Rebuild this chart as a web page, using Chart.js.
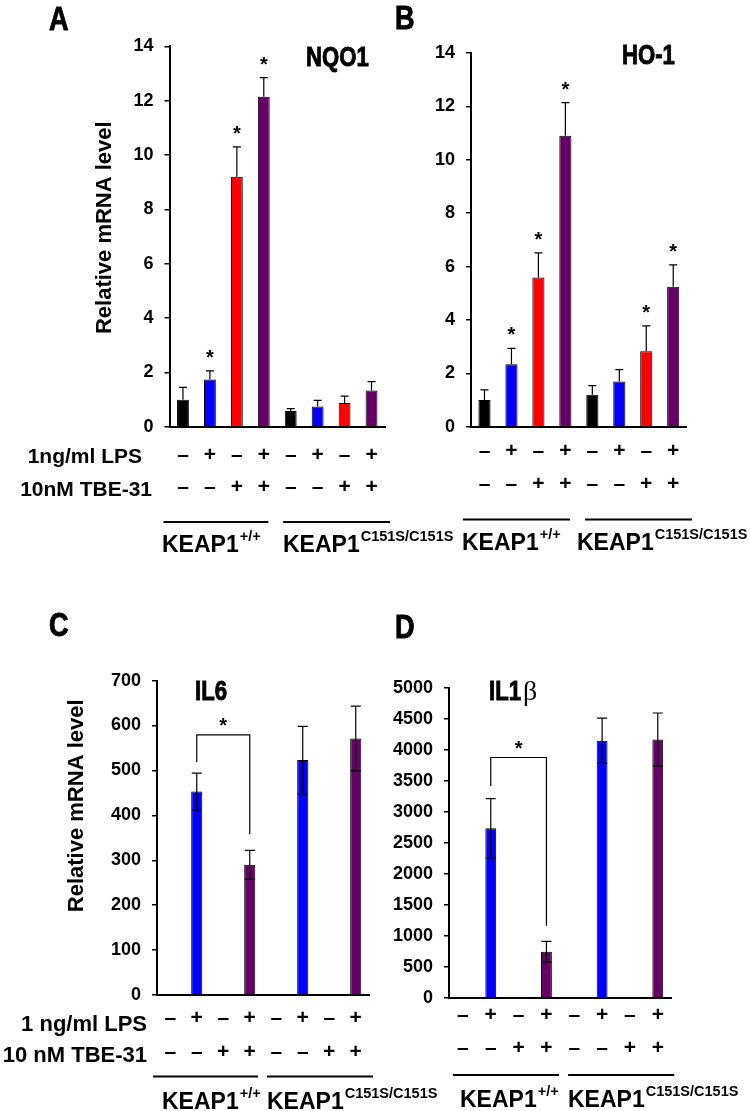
<!DOCTYPE html>
<html>
<head>
<meta charset="utf-8">
<title>KEAP1 mRNA levels</title>
<script src="https://cdn.jsdelivr.net/npm/chart.js@4.4.0/dist/chart.umd.min.js"></script>
<style>
  body { margin: 0; background: #fff; }
  #wrap { position: relative; width: 750px; height: 1111px; }
  #wrap canvas { position: absolute; left: 0; top: 0; }
</style>
</head>
<body>
<div id="wrap">
  <canvas id="chartA" width="750" height="1111"></canvas>
  <canvas id="chartB" width="750" height="1111"></canvas>
  <canvas id="chartC" width="750" height="1111"></canvas>
  <canvas id="chartD" width="750" height="1111"></canvas>
</div>
<script>
// ---- data ----
const lpsRow = ["–", "+", "–", "+", "–", "+", "–", "+"];
const tbeRow = ["–", "–", "+", "+", "–", "–", "+", "+"];
const genotypeSup = ["+/+", "C151S/C151S"];
const barColors = ["#000000", "#0000ff", "#ff0000", "#660066", "#000000", "#0000ff", "#ff0000", "#660066"];

const nqo1Ticks = [0, 2, 4, 6, 8, 10, 12, 14];
const nqo1Values = [1.0, 1.74, 9.2, 12.15, 0.58, 0.75, 0.88, 1.34];
const nqo1Errors = [0.45, 0.32, 1.1, 0.7, 0.09, 0.22, 0.25, 0.32];
const nqo1Sig = [0, 1, 1, 1, 0, 0, 0, 0];

const ho1Ticks = [0, 2, 4, 6, 8, 10, 12, 14];
const ho1Values = [1.0, 2.34, 5.59, 10.9, 1.2, 1.7, 2.83, 5.24];
const ho1Errors = [0.38, 0.6, 0.92, 1.24, 0.34, 0.44, 0.95, 0.82];
const ho1Sig = [0, 1, 1, 1, 0, 0, 1, 1];

const il6Ticks = [0, 100, 200, 300, 400, 500, 600, 700];
const il6Values = [1, 453, 1, 290, 1, 523, 2, 571];
const il6Errors = [0, 41, 0, 32, 0, 75, 0, 72];
const il6Bracket = [519, 579, 358]; // left leg end, top, right leg end

const il1bTicks = [0, 500, 1000, 1500, 2000, 2500, 3000, 3500, 4000, 4500, 5000];
const il1bValues = [0, 2734, 0, 744, 0, 4146, 0, 4164];
const il1bErrors = [0, 478, 0, 167, 0, 364, 0, 428];
const il1bBracket = [3416, 3875, 1165];

const ARIAL = '"Liberation Sans", Arial, sans-serif';

// -------------------------
// helpers for text
// -------------------------
// condensed heavy lettering (panel letters, gene names)
function narrowText(ctx, text, x, y, size) {
  ctx.save();
  ctx.translate(x, y);
  ctx.scale(0.82, 1);
  ctx.font = "bold " + size + "px " + ARIAL;
  ctx.textAlign = "left";
  ctx.textBaseline = "alphabetic";
  ctx.lineWidth = 0.9;
  ctx.fillText(text, 0, 0);
  ctx.strokeText(text, 0, 0);
  const w = ctx.measureText(text).width * 0.82;
  ctx.restore();
  return w;
}

function keapLabel(ctx, x, base, sup) {
  ctx.textAlign = "left";
  ctx.textBaseline = "alphabetic";
  ctx.font = "bold 23px " + ARIAL;
  ctx.fillText("KEAP1", x, base);
  const w = ctx.measureText("KEAP1").width;
  ctx.font = "bold 14.5px " + ARIAL;
  ctx.fillText(sup, x + w + 1, base - 11);
}

const decor = {
  id: "decor",
  afterDatasetsDraw(chart, args, o) {
    const ctx = chart.ctx;
    const xs = chart.scales.x;
    const ys = chart.scales.y;
    const bars = chart.getDatasetMeta(0).data;
    ctx.save();
    ctx.fillStyle = "#000";
    ctx.strokeStyle = "#000";

    // error bars + asterisks
    o.values.forEach((v, i) => {
      const e = o.errors[i];
      if (!e) return;
      const bx = bars[i].x;
      const top = ys.getPixelForValue(v + e);
      const bot = ys.getPixelForValue(o.twoSided ? v - e : v);
      ctx.lineWidth = 1.2;
      ctx.beginPath();
      ctx.moveTo(bx, bot);
      ctx.lineTo(bx, top);
      ctx.moveTo(bx - o.cap / 2, top);
      ctx.lineTo(bx + o.cap / 2, top);
      if (o.twoSided) {
        ctx.moveTo(bx - o.cap / 2, bot);
        ctx.lineTo(bx + o.cap / 2, bot);
      }
      ctx.stroke();
      if (o.sig && o.sig[i]) {
        ctx.font = "bold 20px " + ARIAL;
        ctx.textAlign = "center";
        ctx.textBaseline = "alphabetic";
        ctx.fillText("*", bx, top - 7);
      }
    });

    // significance bracket
    if (o.bracket) {
      const [i1, i2] = o.bracketBars;
      const x1 = bars[i1].x, x2 = bars[i2].x;
      const yTop = ys.getPixelForValue(o.bracket[1]);
      ctx.lineWidth = 1.2;
      ctx.beginPath();
      ctx.moveTo(x1, ys.getPixelForValue(o.bracket[0]));
      ctx.lineTo(x1, yTop);
      ctx.lineTo(x2, yTop);
      ctx.lineTo(x2, ys.getPixelForValue(o.bracket[2]));
      ctx.stroke();
      ctx.font = "bold 20px " + ARIAL;
      ctx.textAlign = "center";
      ctx.textBaseline = "alphabetic";
      ctx.fillText("*", (x1 + x2) / 2, yTop - 3);
    }

    // panel letter and gene name
    narrowText(ctx, o.letter, o.letterPos[0], o.letterPos[1], 33);
    const gw = narrowText(ctx, o.gene, o.genePos[0], o.genePos[1], 27);
    if (o.geneTail) {
      ctx.font = '28px "Liberation Serif", serif';
      ctx.textAlign = "left";
      ctx.fillText(o.geneTail, o.genePos[0] + gw + 2, o.genePos[1]);
    }

    // y axis title
    if (o.yTitle) {
      ctx.save();
      ctx.translate(o.yTitle[0], o.yTitle[1]);
      ctx.rotate(-Math.PI / 2);
      ctx.font = "bold 22px " + ARIAL;
      ctx.textAlign = "center";
      ctx.textBaseline = "middle";
      ctx.fillText("Relative mRNA level", 0, 0);
      ctx.restore();
    }

    // treatment row labels
    (o.rowLabels || []).forEach(([t, x, y]) => {
      ctx.font = "bold " + o.rowFont + "px " + ARIAL;
      ctx.textAlign = "right";
      ctx.textBaseline = "alphabetic";
      ctx.fillText(t, x, y);
    });

    // genotype lines and labels
    ctx.lineWidth = 2;
    o.groupSpans.forEach(([a, b], g) => {
      ctx.beginPath();
      ctx.moveTo(xs.getPixelForValue(a), o.groupY);
      ctx.lineTo(xs.getPixelForValue(b), o.groupY);
      ctx.stroke();
      keapLabel(ctx, o.labelX[g], o.labelBase, genotypeSup[g]);
    });
    ctx.restore();
  }
};

function makePanel(id, p) {
  const W = 750, H = 1111, yW = 70, xH = 100;
  const labels = lpsRow.map((v, i) => [v, tbeRow[i]]);
  return new Chart(document.getElementById(id), {
    type: "bar",
    data: {
      labels: labels,
      datasets: [{
        data: p.values,
        backgroundColor: barColors,
        borderColor: "#000",
        borderWidth: 1,
        categoryPercentage: 1,
        barPercentage: p.barPct
      }]
    },
    options: {
      responsive: false,
      animation: false,
      devicePixelRatio: 1,
      events: [],
      layout: {
        padding: {
          left: p.axisLeft - yW,
          right: W - p.axisRight,
          top: p.axisTop,
          bottom: H - p.zeroY - xH
        }
      },
      scales: {
        x: {
          afterFit: s => { s.height = xH; },
          grid: { display: false, drawTicks: false },
          border: { display: true, color: "#000", width: 2 },
          ticks: {
            color: "#000",
            autoSkip: false,
            maxRotation: 0,
            padding: p.rowPad,
            font: { family: ARIAL, size: 21, weight: "bold", lineHeight: p.rowLH + "px" }
          }
        },
        y: {
          min: 0,
          max: p.ticks[p.ticks.length - 1],
          afterFit: s => { s.width = yW; },
          afterBuildTicks: s => { s.ticks = p.ticks.map(v => ({ value: v })); },
          grid: { display: true, drawOnChartArea: false, drawTicks: true, tickLength: 5, color: "#000", lineWidth: 1.5 },
          border: { display: true, color: "#000", width: 2 },
          ticks: {
            color: "#000",
            autoSkip: false,
            padding: 11,
            callback: v => String(v),
            font: { family: ARIAL, size: 18, weight: "bold" }
          }
        }
      },
      plugins: {
        legend: { display: false },
        tooltip: { enabled: false },
        decor: p.decor
      }
    },
    plugins: [decor]
  });
}

// -------------------------
// panels
// -------------------------
makePanel("chartA", {
  values: nqo1Values, ticks: nqo1Ticks, barPct: 0.44,
  axisLeft: 169.5, axisRight: 385, axisTop: 46.4, zeroY: 426.8, rowPad: 12.6, rowLH: 32,
  decor: {
    values: nqo1Values, errors: nqo1Errors, sig: nqo1Sig, cap: 8,
    letter: "A", letterPos: [49, 30.4], gene: "NQO1", genePos: [306, 66],
    yTitle: [104.5, 227.7],
    rowFont: 21, rowLabels: [["1ng/ml LPS", 142, 463], ["10nM TBE-31", 152, 496]],
    groupY: 522, groupSpans: [[-0.72, 3.17], [3.72, 7.69]], labelX: [162, 283], labelBase: 551.7
  }
});

makePanel("chartB", {
  values: ho1Values, ticks: ho1Ticks, barPct: 0.45,
  axisLeft: 471, axisRight: 686.7, axisTop: 52.9, zeroY: 426.8, rowPad: 7.7, rowLH: 33,
  decor: {
    values: ho1Values, errors: ho1Errors, sig: ho1Sig, cap: 8,
    letter: "B", letterPos: [395, 28.6], gene: "HO-1", genePos: [622, 64],
    groupY: 519.6, groupSpans: [[-0.8, 3.17], [3.73, 7.7]], labelX: [462, 577], labelBase: 550
  }
});

makePanel("chartC", {
  values: il6Values, ticks: il6Ticks, barPct: 0.42,
  axisLeft: 157, axisRight: 369, axisTop: 680.6, zeroY: 995, rowPad: 6.7, rowLH: 34,
  decor: {
    values: il6Values, errors: il6Errors, twoSided: true, cap: 10,
    bracket: il6Bracket, bracketBars: [1, 3],
    letter: "C", letterPos: [49, 636], gene: "IL6", genePos: [195, 700],
    yTitle: [77, 805.8],
    rowFont: 22, rowLabels: [["1 ng/ml LPS", 147, 1031], ["10 nM TBE-31", 147, 1062]],
    groupY: 1076.6, groupSpans: [[-0.65, 3.31], [3.65, 7.65]], labelX: [162, 267], labelBase: 1109
  }
});

makePanel("chartD", {
  values: il1bValues, ticks: il1bTicks, barPct: 0.39,
  axisLeft: 449, axisRight: 671.7, axisTop: 687.7, zeroY: 998, rowPad: 0.5, rowLH: 33,
  decor: {
    values: il1bValues, errors: il1bErrors, twoSided: true, cap: 10,
    bracket: il1bBracket, bracketBars: [1, 3],
    letter: "D", letterPos: [395, 637.7], gene: "IL1", geneTail: "β", genePos: [489, 700],
    groupY: 1074.9, groupSpans: [[-0.36, 3.45], [3.78, 7.59]], labelX: [460, 568], labelBase: 1107.4
  }
});
</script>
</body>
</html>
